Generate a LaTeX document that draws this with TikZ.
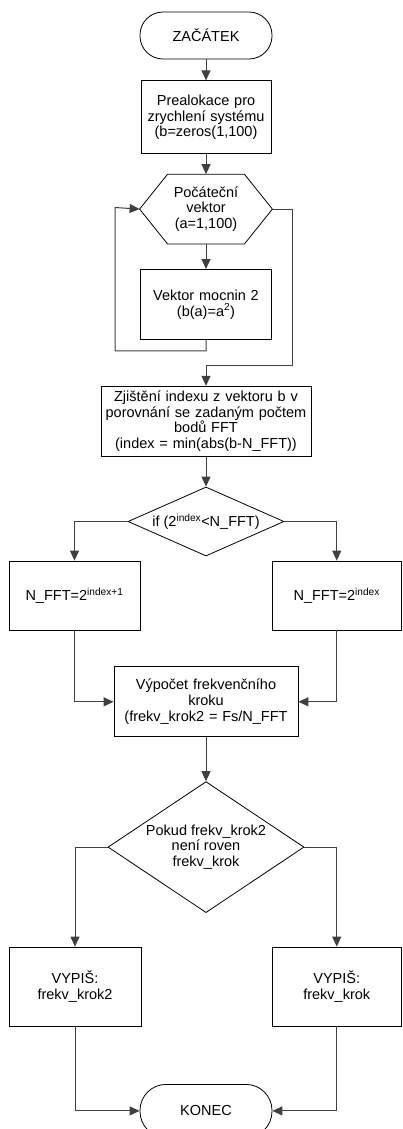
\documentclass[tikz,border=0pt]{standalone}
\usepackage{fontspec}
\setmainfont{Liberation Sans}
\usetikzlibrary{arrows.meta,positioning,shapes.geometric}

\begin{document}
\begin{tikzpicture}[x=1pt, y=-1pt, >={Triangle[length=10pt,width=9pt]},
    every node/.style={font=\fontsize{14.5}{15.7}\selectfont},
    box/.style={draw, inner sep=0pt, align=center, line width=0.8pt},
    term/.style={draw, rounded corners=23pt, minimum width=132pt, minimum height=47pt, line width=0.8pt},
    cond/.style={draw, diamond, inner sep=0pt, align=center, line width=0.8pt},
    conn/.style={->, line width=1pt, draw=black!75}]
\useasboundingbox (0,0) rectangle (402,1129);
\node[term] (start) at (206,35.5) {ZAČÁTEK};
\node[box, text width=130pt, minimum height=73pt, below=21pt of start] (prealok) {Prealokace pro\\zrychlení systému\\(b=zeros(1,100)};
\node[box, draw=none, text width=132pt, minimum height=69pt, below=20pt of prealok] (vec) {Počáteční\\vektor\\(a=1,100)};
\draw[line width=0.8pt] (vec.west) -- ([xshift=28pt]vec.north west) -- ([xshift=-28pt]vec.north east) -- (vec.east) -- ([xshift=-28pt]vec.south east) -- ([xshift=28pt]vec.south west) -- cycle;
\node[box, text width=131pt, minimum height=70pt, below=25pt of vec] (mocnin) {Vektor mocnin 2\\(b(a)=a\textsuperscript{2})};
\node[box, text width=210pt, minimum height=70pt, below=46pt of mocnin] (zjist) {Zjištění indexu z vektoru b v\\porovnání se zadaným počtem\\bodů FFT\\(index = min(abs(b-N\_FFT))};
\node[cond, aspect=2.26, minimum width=156pt, minimum height=69pt, below=30pt of zjist] (cond1) {if (2\textsuperscript{index}<N\_FFT)};
\node[box, text width=131pt, minimum height=69pt] (nlo) at (74.5,595.5) {N\_FFT=2\textsuperscript{index+1}};
\node[box, text width=129.5pt, minimum height=69pt] (nhi) at (336.75,595.5) {N\_FFT=2\textsuperscript{index}};
\node[box, text width=184pt, minimum height=70pt, below=110pt of cond1] (vyp) {Výpočet frekvenčního\\kroku\\(frekv\_krok2 = Fs/N\_FFT};
\node[cond, aspect=1.5, minimum width=196pt, minimum height=131pt, below=44pt of vyp] (cond2) {Pokud frekv\_krok2\\není roven\\frekv\_krok};
\node[box, text width=132pt, minimum height=79pt] (vlo) at (75,986.5) {VYPIŠ:\\frekv\_krok2};
\node[box, text width=129.5pt, minimum height=79pt] (vhi) at (336.75,986.5) {VYPIŠ:\\frekv\_krok};
\node[term, rounded corners=26pt, minimum height=53pt, below=171pt of cond2] (konec) {KONEC};
\coordinate (loopL) at (115,207.5);
\coordinate (loopR) at (292,365);
\draw[conn] (start) -- (prealok);
\draw[conn] (prealok) -- (vec);
\draw[conn] (vec) -- (mocnin);
\draw[conn] (mocnin.south) -- ++(0,11) -| (loopL) -- (vec.west);
\draw[conn] (vec.east) -| (loopR) -| (zjist.north);
\draw[conn] (zjist) -- (cond1);
\draw[conn] (cond1.west) -| (nlo.north);
\draw[conn] (cond1.east) -| (nhi.north);
\draw[conn] (nlo.south) |- (vyp.west);
\draw[conn] (nhi.south) |- (vyp.east);
\draw[conn] (vyp) -- (cond2);
\draw[conn] (cond2.west) -| (vlo.north);
\draw[conn] (cond2.east) -| (vhi.north);
\draw[conn] (vlo.south) |- (konec.west);
\draw[conn] (vhi.south) |- (konec.east);
\end{tikzpicture}
\end{document}
